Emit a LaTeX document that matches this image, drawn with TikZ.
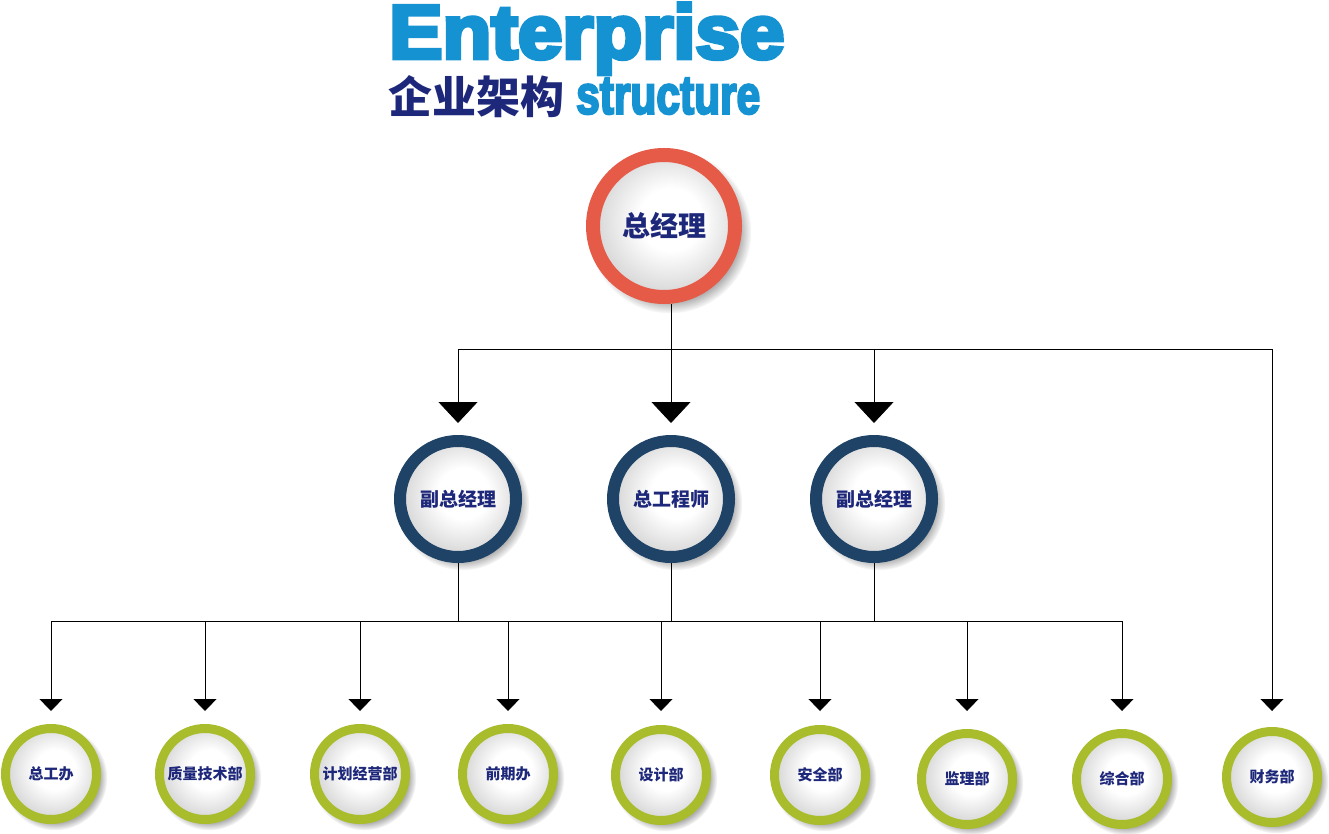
\documentclass[tikz,border=0pt]{standalone}
\usepackage{fontspec}
\setmainfont{Liberation Sans}
\newfontfamily\heavy{Liberation Sans}[UprightFont={* Bold}, FakeBold=5.5]
\newfontfamily\heavyb{Liberation Sans}[UprightFont={* Bold}, FakeBold=4.5]
\newfontfamily\cjk{Noto Sans CJK SC}
\usetikzlibrary{arrows.meta,shadows,fadings}
\definecolor{titleblue}{RGB}{20,146,210}
\definecolor{navytext}{RGB}{30,40,122}
\definecolor{ringred}{RGB}{230,90,72}
\definecolor{ringnavy}{RGB}{31,67,102}
\definecolor{ringolive}{RGB}{168,188,44}
\pgfdeclareradialshading{discshade}{\pgfpoint{3bp}{3bp}}{color(0bp)=(white); color(11bp)=(white); color(24bp)=(black!14); color(50bp)=(black!14)}
\tikzset{
  disc/.style={circle, inner sep=0pt, shading=discshade, text=navytext, align=center},
  gmnode/.style={disc, draw=ringred, line width=14pt, minimum size=142pt,
    font=\cjk\bfseries\fontsize{28pt}{30pt}\selectfont,
    circular drop shadow={shadow scale=1.15, shadow xshift=5pt, shadow yshift=-5pt, opacity=.45, fill=black!70}},
  midnode/.style={disc, draw=ringnavy, line width=12pt, minimum size=116pt,
    font=\cjk\bfseries\fontsize{19pt}{21pt}\selectfont,
    circular drop shadow={shadow scale=1.15, shadow xshift=4pt, shadow yshift=-4pt, opacity=.45, fill=black!70}},
  botnode/.style={disc, draw=ringolive, line width=9pt, minimum size=91pt,
    font=\cjk\bfseries\fontsize{15pt}{17pt}\selectfont,
    circular drop shadow={shadow scale=1.15, shadow xshift=3.5pt, shadow yshift=-3.5pt, opacity=.45, fill=black!70}},
  conn/.style={draw=black, line width=0.9pt},
  bigarr/.style={conn, -{Triangle[width=39pt,length=21pt]}},
  smallarr/.style={conn, -{Triangle[width=23pt,length=12pt]}},
  titletext/.style={inner sep=0pt, text=titleblue}
}
\begin{document}
\begin{tikzpicture}[x=1pt,y=-1pt]
\useasboundingbox (0,0) rectangle (1329,834);
% title
\node[titletext, anchor=north west] (t1) at (389,3) {\resizebox*{395pt}{71pt}{\heavy Enterprise}};
\node[titletext, anchor=north west] (t2) at (576,78) {\resizebox*{184pt}{36pt}{\heavyb structure}};
\node[inner sep=0pt, anchor=base west, text=navytext, font=\cjk\bfseries\fontsize{44pt}{44pt}\selectfont] (t3) at (388,114) {企业架构};
% nodes
\node[gmnode] (gm) at (664,226) {总经理};
\node[midnode] (vp1) at (458,499) {副总经理};
\node[midnode] (eng) at (671,499) {总工程师};
\node[midnode] (vp2) at (874,499) {副总经理};
\node[botnode] (b1) at (51,774) {总工办};
\node[botnode] (b2) at (205,774) {质量技术部};
\node[botnode] (b3) at (360,774) {计划经营部};
\node[botnode] (b4) at (508,774) {前期办};
\node[botnode] (b5) at (661,775) {设计部};
\node[botnode] (b6) at (820,775) {安全部};
\node[botnode] (b7) at (967,779) {监理部};
\node[botnode] (b8) at (1122,779) {综合部};
\node[botnode] (b9) at (1272,777) {财务部};
% connectors
\coordinate (j0) at (671,349);
\coordinate (j1) at (671,621);
\coordinate (tip) at (0,711);
\draw[conn] (gm.south -| j0) -- (j0);
\draw[bigarr] (j0) -| ([yshift=12pt]vp1.north);
\draw[bigarr] (j0) -- ([yshift=12pt]eng.north);
\draw[bigarr] (j0) -| ([yshift=12pt]vp2.north);
\draw[smallarr] (j0) -| (b9.north |- tip);
\draw[conn] (vp1.south) -- (vp1.south |- j1);
\draw[conn] (eng.south) -- (j1);
\draw[conn] (vp2.south) -- (vp2.south |- j1);
\foreach \b in {b1,b2,b3,b4,b5,b6,b7,b8}{
  \draw[smallarr] (j1) -| (\b.north |- tip);
}
\end{tikzpicture}
\end{document}
